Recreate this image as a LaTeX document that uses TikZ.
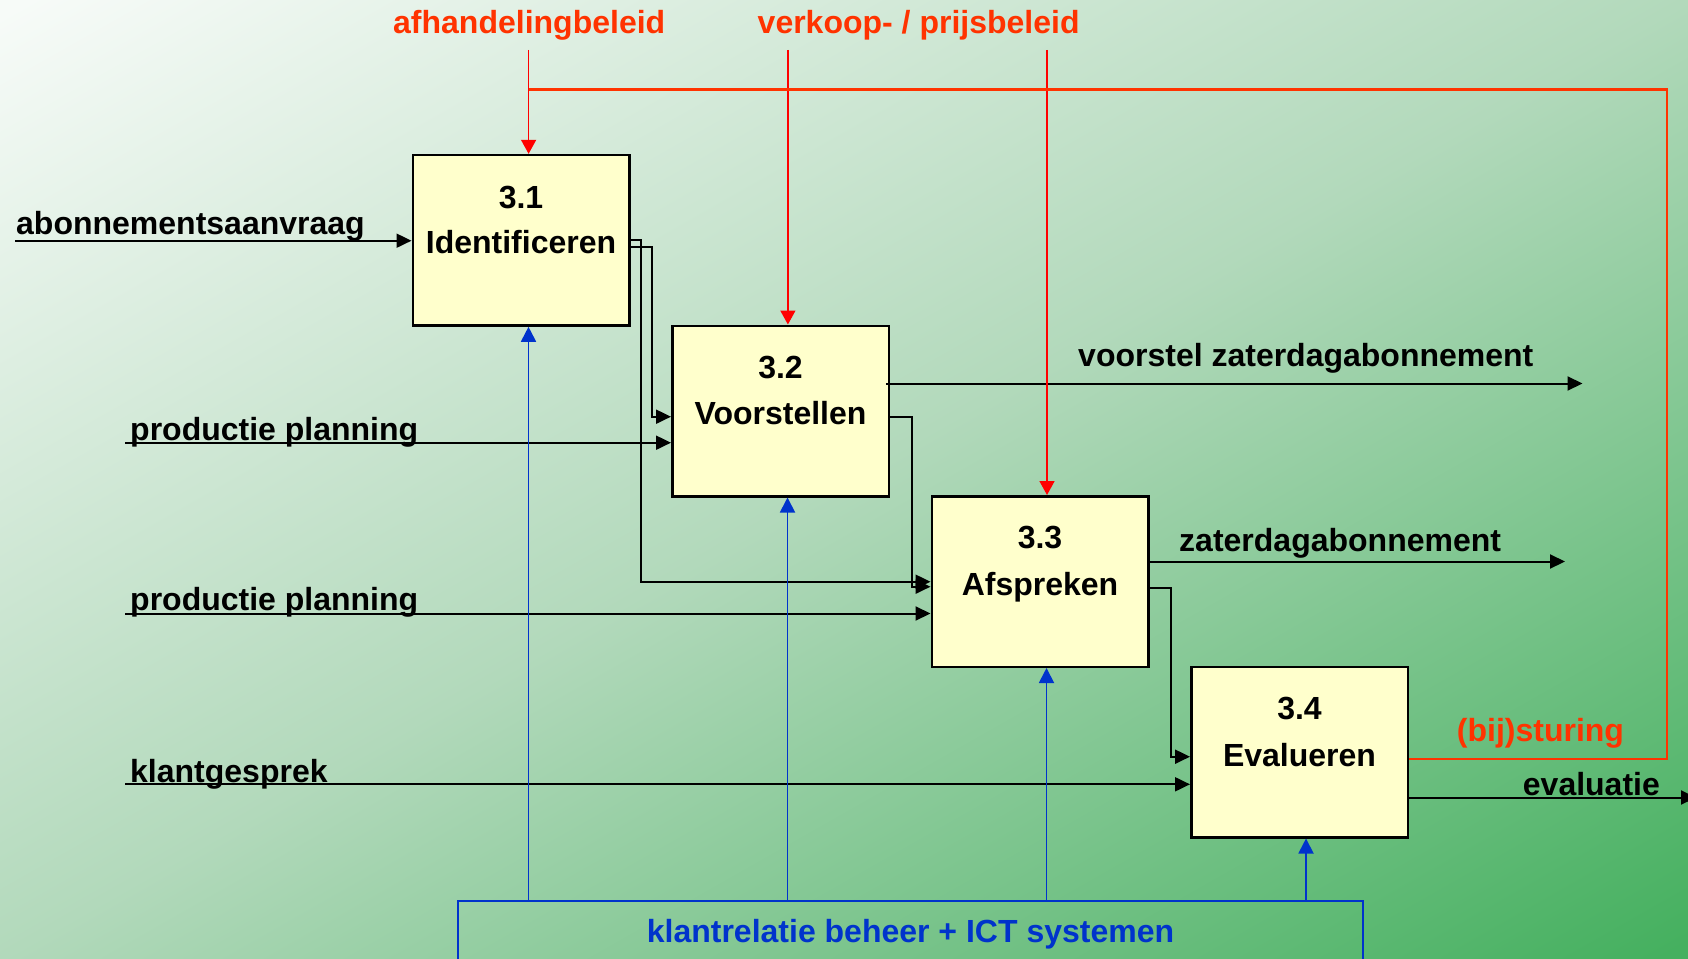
\documentclass[tikz,border=0pt]{standalone}
\usepackage{fontspec}
\setmainfont{Liberation Sans}
\usetikzlibrary{arrows.meta,calc}

\definecolor{boxfill}{HTML}{FFFFCC}
\definecolor{ctrlred}{HTML}{FF0000}
\definecolor{fbred}{HTML}{FF3300}
\definecolor{mechblue}{HTML}{0033CC}
\definecolor{bgA}{HTML}{F7FBF8}
\definecolor{bgB}{HTML}{B2D9BB}
\definecolor{bgC}{HTML}{45B05F}

% soft gradient; the page corners fall near 15bp and 85bp of the square
\pgfdeclareverticalshading{bgdiag}{100bp}{%
  color(0bp)=(bgC); color(15bp)=(bgC); color(50bp)=(bgB);
  color(85bp)=(bgA); color(100bp)=(bgA)}

\begin{document}
\begin{tikzpicture}[x=1pt, y=-1pt,
  font=\fontsize{32}{38}\selectfont\bfseries,
  proc/.style={draw=black, line width=2.5pt, fill=boxfill,
    minimum width=216.5pt, minimum height=170.5pt, inner sep=0pt},
  flow/.style={draw=black, line width=2pt, -{Triangle[length=15pt,width=14pt]}},
  ctrl/.style={draw=ctrlred, line width=1.6pt, -{Triangle[length=14pt,width=15pt]}},
  mech/.style={draw=mechblue, line width=1.8pt, -{Triangle[length=15pt,width=15pt]}},
  lbl/.style={inner sep=0pt, anchor=base west},
  ttl/.style={inner sep=0pt, anchor=base},
]
% page and background: corner-to-corner gradient stretched over the page
\useasboundingbox (0,0) rectangle (1688,958);
\clip (0,0) rectangle (1688,958);
\begin{scope}[transform canvas={xscale=1.76200}]
  \shade[shading=bgdiag, shading angle=45] (0,0) rectangle (958,958);
\end{scope}

% process boxes
\node[proc] (b1) at (521,240.3) {};
\node[proc] (b2) at (780.5,411) {};
\node[proc] (b3) at (1040,581.5) {};
\node[proc] (b4) at (1299.5,752) {};

\node[ttl] (n1) at ($(b1.center)+(0,-32)$) {3.1};
\node[ttl] (t1) at ($(b1.center)+(0,13)$) {Identificeren};
\node[ttl] (n2) at ($(b2.center)+(0,-33)$) {3.2};
\node[ttl] (t2) at ($(b2.center)+(0,13.5)$) {Voorstellen};
\node[ttl] (n3) at ($(b3.center)+(0,-33)$) {3.3};
\node[ttl] (t3) at ($(b3.center)+(0,13.5)$) {Afspreken};
\node[ttl] (n4) at ($(b4.center)+(0,-33)$) {3.4};
\node[ttl] (t4) at ($(b4.center)+(0,14)$) {Evalueren};

% mechanism box
\node[draw=mechblue, line width=2pt, minimum width=905pt, minimum height=70pt,
  inner sep=0pt] (mechbox) at (910.5,935.7) {};
\node[ttl, text=mechblue] (mtext) at (910.5,942.7) {klantrelatie beheer + ICT systemen};

% inputs
\coordinate (in1) at (15,240.7);
\coordinate (in2) at (125,442.7);
\coordinate (in3) at (125,613.5);
\coordinate (in4) at (125,784.3);
\draw[flow] (in1) -- (in1 -| b1.west);
\draw[flow] (in2) -- (in2 -| b2.west);
\draw[flow] (in3) -- (in3 -| b3.west);
\draw[flow] (in4) -- (in4 -| b4.west);
\node[lbl] (l1) at (16,234.5) {abonnementsaanvraag};
\node[lbl] (l2) at (130,440.7) {productie planning};
\node[lbl] (l3) at (130,610.7) {productie planning};
\node[lbl] (l4) at (130,782.7) {klantgesprek};

% flows between the steps
\draw[flow] (b1.east) -- ++(10,0) |- ($(b3.west)+(0,0.2)$);
\draw[flow] ($(b1.east)+(0,6.4)$) -- ++(21.5,0) |- ($(b2.west)+(0,5.7)$);
\draw[flow] ($(b2.east)+(0,5.7)$) -- ++(21.5,0) |- ($(b3.west)+(0,5.2)$);
\draw[flow] ($(b3.east)+(0,6)$) -- ++(21.3,0) |- ($(b4.west)+(0,4.7)$);

% outputs
\coordinate (o2) at (1582.5,383.5);
\coordinate (o3) at (1565,561.5);
\coordinate (o4) at (1696,797.5);
\draw[flow] ($(b2.east)+(-4,-27.5)$) -- (o2);
\draw[flow] ($(b3.east)+(0,-20)$) -- (o3);
\draw[flow] ($(b4.east)+(0,45.5)$) -- (o4);
\node[lbl] (l5) at (1078,366) {voorstel zaterdagabonnement};
\node[lbl] (l6) at (1179,551.7) {zaterdagabonnement};
\node[lbl] (l7) at (1522.7,795) {evaluatie};

% controls
\coordinate (c1) at (528.6,50);
\coordinate (c2) at (787.9,50);
\coordinate (c3) at (1047,50);
\draw[ctrl] (c1) -- (c1 |- b1.north);
\draw[ctrl] (c2) -- (c2 |- b2.north);
\draw[ctrl] (c3) -- (c3 |- b3.north);
\node[lbl, text=fbred] (r1) at (393,33.5) {afhandelingbeleid};
\node[lbl, text=fbred] (r2) at (757.5,33.5) {verkoop- / prijsbeleid};

% feedback loop
\coordinate (fbtop) at (1667,89.3);
\draw[draw=fbred, line width=2pt] ($(b4.east)+(0,6.7)$) -| (fbtop);
\draw[draw=fbred, line width=3pt] ($(fbtop)+(1,0)$) -- (c1 |- fbtop);
\node[lbl, text=fbred] (r3) at (1456.7,741.7) {(bij)sturing};

% mechanisms
\coordinate (k1) at ($(b1.south)+(7.5,0)$);
\coordinate (k2) at ($(b2.south)+(7,0)$);
\coordinate (k3) at ($(b3.south)+(6.5,0)$);
\coordinate (k4) at ($(b4.south)+(6.5,0)$);
\draw[mech] (k1 |- mechbox.north) -- (k1);
\draw[mech] (k2 |- mechbox.north) -- (k2);
\draw[mech] (k3 |- mechbox.north) -- (k3);
\draw[mech] (k4 |- mechbox.north) -- (k4);
\end{tikzpicture}
\end{document}
